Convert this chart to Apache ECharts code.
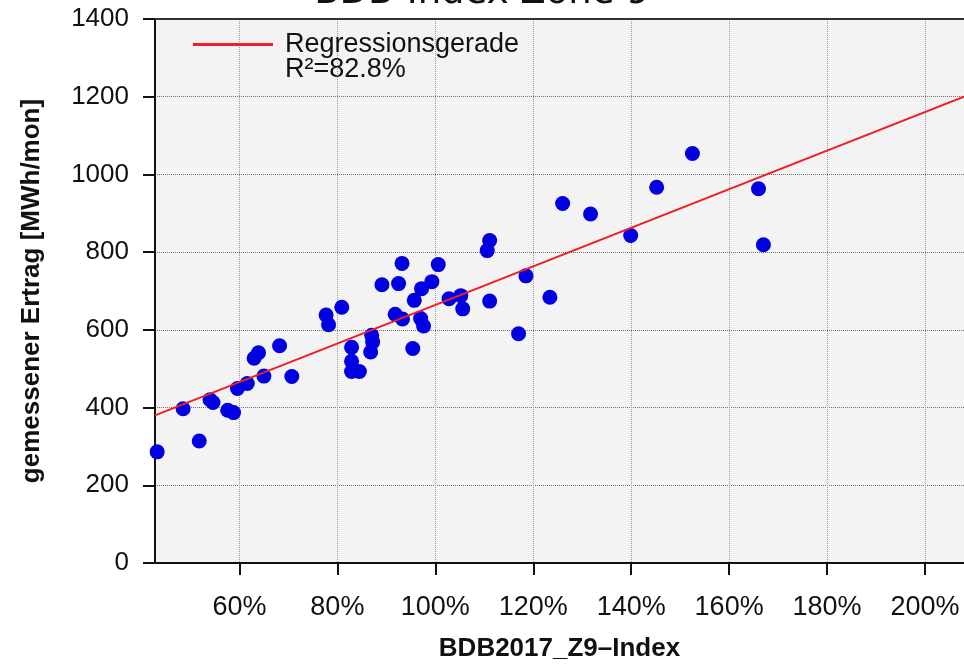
<!DOCTYPE html>
<html>
<head>
<meta charset="utf-8">
<script src="https://cdn.jsdelivr.net/npm/echarts@6/dist/echarts.min.js"></script>
<style>
  html, body { margin: 0; padding: 0; background: #ffffff; }
  #chart { width: 964px; height: 664px; }
</style>
</head>
<body>
<div id="chart"></div>
<script>
// BDB2017 Zone 9 index (%) against measured monthly yield (MWh/mon)
const indexPct = [
  43.2, 48.5, 51.8, 54.0, 54.6, 57.6, 58.8, 59.6, 61.6, 63.0,
  63.9, 65.0, 68.2, 70.7, 77.7, 78.2, 80.9, 82.9, 82.9, 82.9,
  84.5, 87.0, 87.2, 86.8, 89.1, 92.5, 93.2, 91.8, 93.3, 95.4,
  95.7, 97.2, 99.3, 100.6, 97.0, 97.6, 102.8, 105.2, 105.6, 111.1,
  110.6, 111.1, 118.5, 123.4, 117.0, 126.0, 131.7, 139.9, 145.2, 152.5,
  166.0, 167.0
];
const ertrag = [
  286, 397, 314, 420, 413, 393, 387, 449, 462, 527,
  541, 481, 559, 480, 638, 613, 658, 555, 519, 493,
  493, 586, 569, 543, 716, 719, 771, 640, 628, 552,
  676, 706, 724, 768, 629, 610, 680, 688, 654, 674,
  804, 830, 739, 684, 590, 925, 898, 843, 967, 1054,
  963, 819
];

// Regression line end points (index %, MWh/mon)
const regressionX = [42.76, 207.96];
const regressionY = [380, 1200];

const xTickValues = [60, 80, 100, 120, 140, 160, 180, 200];
const xMin = 42.76;
const xMax = 207.96;

const scatterData = indexPct.map((v, i) => [v, ertrag[i]]);
const regressionData = regressionX.map((v, i) => [v, regressionY[i]]);

const labelFont = 'Liberation Sans';

const chart = echarts.init(document.getElementById('chart'), null, { renderer: 'canvas' });
chart.setOption({
  backgroundColor: '#ffffff',
  animation: false,
  title: {
    text: 'BDB-Index Zone 9',
    left: 'center',
    top: -30,
    textStyle: { fontFamily: 'DejaVu Sans', fontSize: 37, fontWeight: 'normal', color: '#111111' }
  },
  legend: {
    data: ['Regressionsgerade'],
    left: 188,
    top: 26,
    icon: 'rect',
    itemWidth: 80,
    itemHeight: 3,
    textStyle: { fontFamily: labelFont, fontSize: 27, color: '#111111', padding: [0, 0, 0, 7] }
  },
  graphic: [{
    type: 'text',
    left: 285,
    top: 56,
    style: { text: 'R²=82.8%', font: '27px "Liberation Sans"', fill: '#111111' }
  }],
  grid: {
    left: 155,
    right: 0,
    top: 19,
    bottom: 101,
    outerBoundsMode: 'none',
    show: true,
    backgroundColor: '#f3f3f3',
    borderWidth: 0
  },
  xAxis: [{
    type: 'value',
    min: xMin,
    max: xMax,
    name: 'BDB2017_Z9–Index',
    nameLocation: 'middle',
    nameGap: 73,
    nameTextStyle: { fontFamily: labelFont, fontSize: 26, fontWeight: 'bold', color: '#111111' },
    axisLine: { show: true, lineStyle: { color: '#111111', width: 2 } },
    axisTick: { show: true, length: 12, customValues: xTickValues, lineStyle: { color: '#111111', width: 2 } },
    axisLabel: {
      customValues: xTickValues,
      margin: 31,
      fontFamily: labelFont,
      fontSize: 27,
      color: '#111111',
      formatter: v => v + '%'
    },
    splitLine: { show: true, lineStyle: { type: 'dotted', color: '#999999', width: 1 } }
  }, {
    type: 'value',
    position: 'top',
    min: xMin,
    max: xMax,
    axisLine: { show: true, lineStyle: { color: '#333333', width: 2 } },
    axisTick: { show: false },
    axisLabel: { show: false },
    splitLine: { show: false }
  }],
  yAxis: {
    type: 'value',
    min: 0,
    max: 1400,
    interval: 200,
    name: 'gemessener Ertrag [MWh/mon]',
    nameLocation: 'middle',
    nameGap: 110,
    nameTextStyle: { fontFamily: labelFont, fontSize: 26, fontWeight: 'bold', color: '#111111' },
    axisLine: { show: true, lineStyle: { color: '#111111', width: 2 } },
    axisTick: { show: true, length: 12, lineStyle: { color: '#111111', width: 2 } },
    axisLabel: {
      margin: 26,
      fontFamily: labelFont,
      fontSize: 26,
      color: '#111111',
      formatter: v => String(v)
    },
    splitLine: { show: true, lineStyle: { type: 'dotted', color: '#707070', width: 1 } }
  },
  series: [{
    name: 'Messwerte',
    type: 'scatter',
    data: scatterData,
    symbol: 'circle',
    symbolSize: 15,
    itemStyle: { color: '#0000e0', opacity: 1 },
    z: 2
  }, {
    name: 'Regressionsgerade',
    type: 'line',
    data: regressionData,
    symbol: 'none',
    lineStyle: { color: '#ee1f26', width: 2 },
    itemStyle: { color: '#ee1f26' },
    clip: true,
    z: 3
  }]
});
</script>
</body>
</html>
